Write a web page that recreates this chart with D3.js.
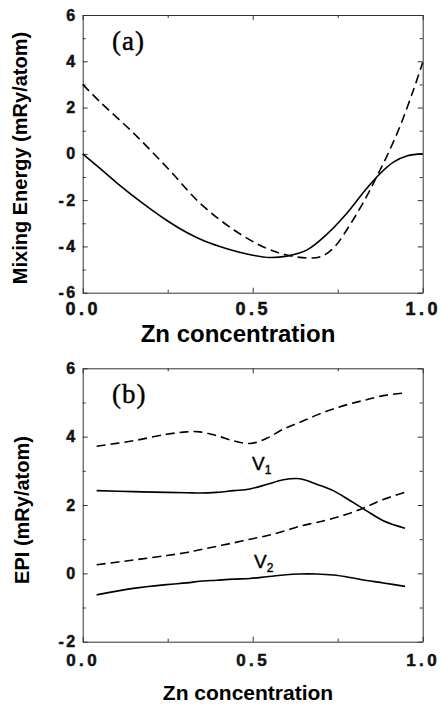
<!DOCTYPE html>
<html>
<head>
<meta charset="utf-8">
<script src="https://cdn.jsdelivr.net/npm/d3@7"></script>
<style>
  body { margin: 0; background: #fff; }
  svg { display: block; }
  .tick text { font-family: "Liberation Sans", Arial, sans-serif; font-weight: bold; fill: #111; stroke: #111; stroke-width: 0.5px; }
  .domain { stroke: #333; }
  .tick line { stroke: #333; }
</style>
</head>
<body>
<svg id="chart" width="441" height="704"></svg>
<script>
// panel (a): mixing energy vs Zn concentration
const mixX = [0, 0.05, 0.1, 0.169, 0.25, 0.306, 0.36, 0.424, 0.5, 0.55, 0.6, 0.66, 0.72, 0.775, 0.835, 0.875, 0.915, 0.955, 1.0];
const mixSolid = [0, -0.62, -1.25, -2.05, -2.9, -3.4, -3.78, -4.1, -4.38, -4.48, -4.42, -4.15, -3.45, -2.6, -1.5, -0.85, -0.35, -0.08, 0.0];
const mixDashX = [0, 0.05, 0.15, 0.25, 0.345, 0.445, 0.54, 0.6, 0.66, 0.7, 0.737, 0.786, 0.835, 0.865, 0.894, 0.933, 0.973, 1.0];
const mixDashed = [3.0, 2.26, 0.89, -0.62, -2.13, -3.29, -4.08, -4.37, -4.5, -4.44, -4.08, -3.07, -1.84, -0.98, -0.12, 1.18, 2.77, 3.95];

// panel (b): EPI vs Zn concentration
const epiX = [0.041, 0.149, 0.247, 0.306, 0.345, 0.394, 0.443, 0.492, 0.541, 0.59, 0.639, 0.688, 0.737, 0.786, 0.835, 0.884, 0.948];
const v1Dashed = [3.72, 3.88, 4.07, 4.14, 4.14, 4.03, 3.88, 3.80, 3.95, 4.22, 4.42, 4.63, 4.81, 4.96, 5.08, 5.2, 5.28];
const v1Solid = [2.42, 2.39, 2.37, 2.36, 2.35, 2.37, 2.42, 2.47, 2.6, 2.74, 2.77, 2.61, 2.42, 2.13, 1.83, 1.54, 1.32];
const v2Dashed = [0.25, 0.39, 0.52, 0.61, 0.69, 0.79, 0.89, 1.0, 1.1, 1.23, 1.38, 1.49, 1.61, 1.76, 1.95, 2.16, 2.37];
const v2Solid = [-0.63, -0.44, -0.33, -0.28, -0.23, -0.2, -0.17, -0.15, -0.1, -0.05, -0.02, -0.02, -0.05, -0.12, -0.21, -0.28, -0.38];

const xMajor = [0, 0.5, 1];
const xMinor = [0.25, 0.75];

const svg = d3.select("#chart");

function drawPanel(cfg) {
    const x = d3.scaleLinear().domain([0, 1]).range([82.7, 422.7]);
    const y = d3.scaleLinear().domain(cfg.yDomain).range([cfg.bottom, cfg.top]);
    const g = svg.append("g");

    // minor ticks on all four sides
    [[d3.axisBottom(x), cfg.bottom], [d3.axisTop(x), cfg.top]].forEach(function (a) {
        g.append("g").attr("transform", "translate(0," + a[1] + ")")
            .call(a[0].tickValues(xMinor).tickSize(-3).tickFormat(""))
            .select(".domain").remove();
    });
    [[d3.axisLeft(y), 82.7], [d3.axisRight(y), 422.7]].forEach(function (a) {
        g.append("g").attr("transform", "translate(" + a[1] + ",0)")
            .call(a[0].tickValues(cfg.yMinor).tickSize(-3).tickFormat(""))
            .select(".domain").remove();
    });

    // major ticks, labels on bottom and left only
    g.append("g").attr("transform", "translate(0," + cfg.bottom + ")")
        .call(d3.axisBottom(x).tickValues(xMajor).tickSize(-5).tickSizeOuter(0).tickPadding(cfg.xPad).tickFormat(d3.format(".1f")))
        .selectAll(".tick text").style("font-size", cfg.xFont + "px").attr("letter-spacing", "3.5px");
    g.append("g").attr("transform", "translate(0," + cfg.top + ")")
        .call(d3.axisTop(x).tickValues(xMajor).tickSize(-5).tickSizeOuter(0).tickFormat(""));
    g.append("g").attr("transform", "translate(82.7,0)")
        .call(d3.axisLeft(y).tickValues(cfg.yMajor).tickSize(-5).tickSizeOuter(0).tickPadding(5).tickFormat(d => String(d)))
        .selectAll(".tick text").style("font-size", "16px").attr("letter-spacing", "2.5px");
    g.append("g").attr("transform", "translate(422.7,0)")
        .call(d3.axisRight(y).tickValues(cfg.yMajor).tickSize(-5).tickSizeOuter(0).tickFormat(""));

    const line = d3.line().curve(d3.curveCatmullRom).x(d => x(d[0])).y(d => y(d[1]));
    cfg.series.forEach(function (s) {
        g.append("path")
            .datum(d3.zip(s.x, s.y))
            .attr("d", line)
            .attr("fill", "none")
            .attr("stroke", "#000")
            .attr("stroke-width", 1.6)
            .attr("stroke-dasharray", s.dashed ? "9,5" : null);
    });

    g.append("text")
        .attr("x", cfg.xLabelX).attr("y", cfg.xLabelY)
        .attr("text-anchor", "middle")
        .style("font-family", "Liberation Sans, Arial, sans-serif")
        .style("font-weight", "bold")
        .style("font-size", cfg.xLabelFont + "px")
        .text("Zn concentration");

    g.append("text")
        .attr("transform", "translate(" + cfg.yLabelX + "," + cfg.yLabelY + ") rotate(-90)")
        .attr("text-anchor", "middle")
        .style("font-family", "Liberation Sans, Arial, sans-serif")
        .style("font-weight", "bold")
        .style("font-size", "20px")
        .text(cfg.yLabel);

    g.append("text")
        .attr("x", 112).attr("y", cfg.tagY)
        .style("font-family", "Liberation Serif, Times New Roman, serif")
        .style("font-size", "27px")
        .attr("letter-spacing", "1px")
        .attr("stroke", "#000").attr("stroke-width", 0.4)
        .text(cfg.tag);

    return { g: g, x: x, y: y };
}

drawPanel({
    top: 15, bottom: 292.7, yDomain: [-6, 6],
    yMajor: [-6, -4, -2, 0, 2, 4, 6], yMinor: [-5, -3, -1, 1, 3, 5],
    xFont: 18, xPad: 10,
    xLabelX: 238, xLabelY: 341.5, xLabelFont: 24,
    yLabel: "Mixing Energy (mRy/atom)", yLabelX: 27, yLabelY: 158,
    tag: "(a)", tagY: 50,
    series: [
        { x: mixX, y: mixSolid, dashed: false },
        { x: mixDashX, y: mixDashed, dashed: true }
    ]
});

const pb = drawPanel({
    top: 368.3, bottom: 641.7, yDomain: [-2, 6],
    yMajor: [-2, 0, 2, 4, 6], yMinor: [-1, 1, 3, 5],
    xFont: 17, xPad: 12,
    xLabelX: 248, xLabelY: 700, xLabelFont: 21,
    yLabel: "EPI (mRy/atom)", yLabelX: 29, yLabelY: 510,
    tag: "(b)", tagY: 403,
    series: [
        { x: epiX, y: v1Dashed, dashed: true },
        { x: epiX, y: v1Solid, dashed: false },
        { x: epiX, y: v2Dashed, dashed: true },
        { x: epiX, y: v2Solid, dashed: false }
    ]
});

// V1 / V2 labels
[["1", 252, 470], ["2", 254, 568]].forEach(function (l) {
    const t = pb.g.append("text")
        .attr("x", l[1]).attr("y", l[2])
        .style("font-family", "Liberation Sans, Arial, sans-serif")
        .style("font-size", "19px")
        .attr("stroke", "#000").attr("stroke-width", 0.4);
    t.append("tspan").text("V");
    t.append("tspan").attr("dy", "4").style("font-size", "12px").text(l[0]);
});
</script>
</body>
</html>
